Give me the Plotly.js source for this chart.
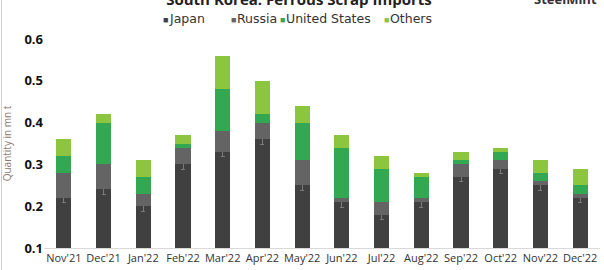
<!DOCTYPE html>
<html><head><meta charset="utf-8">
<script src="https://cdn.plot.ly/plotly-3.0.1.min.js"></script>
<style>html,body{margin:0;padding:0;background:#fff;overflow:hidden}#c{width:604px;height:270px}#f{position:absolute;left:1px;top:0;width:1px;height:270px;background:#d0d0d0}</style>
</head><body><div id="c"></div><div id="f"></div>
<script>
const months = ["Nov'21","Dec'21","Jan'22","Feb'22","Mar'22","Apr'22","May'22","Jun'22","Jul'22","Aug'22","Sep'22","Oct'22","Nov'22","Dec'22"];
const japan  = [0.22,0.24,0.20,0.30,0.33,0.36,0.25,0.21,0.18,0.21,0.27,0.29,0.25,0.22];
const russia = [0.06,0.06,0.03,0.04,0.05,0.04,0.06,0.01,0.03,0.01,0.03,0.02,0.01,0.01];
const usa    = [0.04,0.10,0.04,0.01,0.10,0.02,0.09,0.12,0.08,0.05,0.01,0.02,0.02,0.02];
const others = [0.04,0.02,0.04,0.02,0.08,0.08,0.04,0.03,0.03,0.01,0.02,0.01,0.03,0.04];
const yTicks = [0.1,0.2,0.3,0.4,0.5,0.6];
const seriesNames = ['Japan','Russia','United States','Others'];
const seriesColors = ['#404040','#646464','#33a852','#8cc63f'];

const W = 604, H = 270, M = {l:44, r:4, t:39, b:22};
const pw = W - M.l - M.r, ph = H - M.t - M.b;
const px2x = p => (p - M.l) / pw;
const py2y = p => (H - M.b - p) / ph;

const mk = (i, y, extra) => Object.assign({type:'bar', name:seriesNames[i], x:months, y, marker:{color:seriesColors[i]}, showlegend:false}, extra||{});
const data = [
  mk(0, japan, {error_y:{type:'constant', value:0.012, color:'#7a7a7a', thickness:1, width:2}}),
  mk(1, russia),
  mk(2, usa),
  mk(3, others)
];

// legend drawn as text annotations (square + label)
const legX = [162, 230, 279, 383];
const anns = [];
seriesNames.forEach((n, i) => {
  anns.push({text:'■', xref:'paper', yref:'paper', x:px2x(legX[i]-1), xanchor:'left', y:py2y(19.5), yanchor:'middle', showarrow:false, font:{size:9, color:seriesColors[i]}});
  anns.push({text:n, xref:'paper', yref:'paper', x:px2x(legX[i]+5), xanchor:'left', y:py2y(19), yanchor:'middle', showarrow:false, font:{size:12.5, color:'#333', family:'DejaVu Sans, sans-serif'}});
});
anns.push({text:'<b>SteelMint</b>', xref:'paper', yref:'paper', x:px2x(599), xanchor:'right', y:py2y(-1), yanchor:'middle', showarrow:false, font:{size:13, color:'#333'}});

const layout = {
  width:W, height:H,
  margin:M,
  barmode:'stack', bargap:0.62,
  paper_bgcolor:'#fff', plot_bgcolor:'#fff',
  font:{family:'Open Sans, sans-serif', color:'#333'},
  title:{text:'<b>South Korea: Ferrous Scrap Imports</b>', font:{size:15, color:'#222'}, x:0.495, xanchor:'center', yref:'container', y:1.0, yanchor:'middle'},
  showlegend:false,
  xaxis:{type:'category', showline:true, linecolor:'#d9d9d9', linewidth:1, ticks:'', tickfont:{size:11, color:'#333'}, showgrid:false},
  yaxis:{range:[0.1,0.6], tickvals:yTicks, ticktext:yTicks.map(v=>v.toFixed(1)), showgrid:false, zeroline:false, tickfont:{size:13, color:'#111', family:'Open Sans, sans-serif', weight:'bold'}, ticks:'',
         title:{text:'Quantity in mn t', font:{size:10, color:'#8a7a70'}, standoff:10}},
  annotations:anns
};
Plotly.newPlot('c', data, layout, {displayModeBar:false, staticPlot:true});
</script></body></html>
